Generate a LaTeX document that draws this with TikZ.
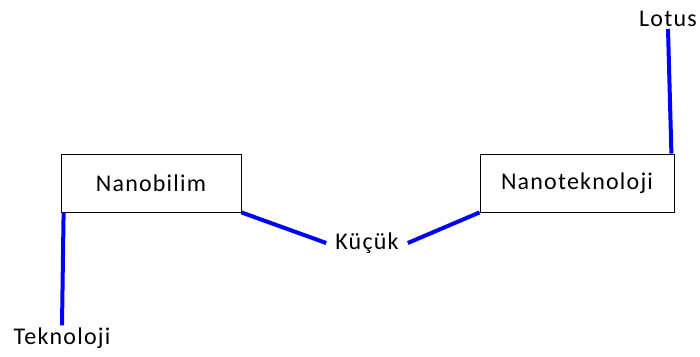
\documentclass[tikz,border=0pt]{standalone}
\usepackage{fontspec}
\setmainfont{Carlito}[LetterSpace=5]
\usetikzlibrary{calc}

\begin{document}
\begin{tikzpicture}[
  x=1pt,y=-1pt,
  link/.style={draw=blue,line width=4pt}, % style of the blue connectors
  main node/.style={rectangle,draw,thick,minimum width=180pt,minimum height=58pt,font=\fontsize{24}{28}\selectfont}, % style of the boxes
  leaf node/.style={inner sep=6pt,font=\fontsize{24}{28}\selectfont} % style of the free words
  ]
  \useasboundingbox (0,0) rectangle (700,356);

  \node[main node] (N) at (151,183) {Nanobilim};
  \node[main node,minimum width=194pt] (NT) at (577,183) {Nanoteknoloji};
  \node[leaf node,inner xsep=9pt] (K) at (367,243) {Küçük};
  \node[leaf node,inner sep=2pt] (T) at (62,338) {Teknoloji};
  \node[leaf node,inner sep=2pt] (L) at (668,19) {Lotus};

  \path[link]
    (N.south east) -- (K.west)
    (K.east) -- (NT.south west)
    ([xshift=3pt]N.south west) -- (T.north)
    ([xshift=-3pt]NT.north east) -- (L.south);
\end{tikzpicture}
\end{document}
